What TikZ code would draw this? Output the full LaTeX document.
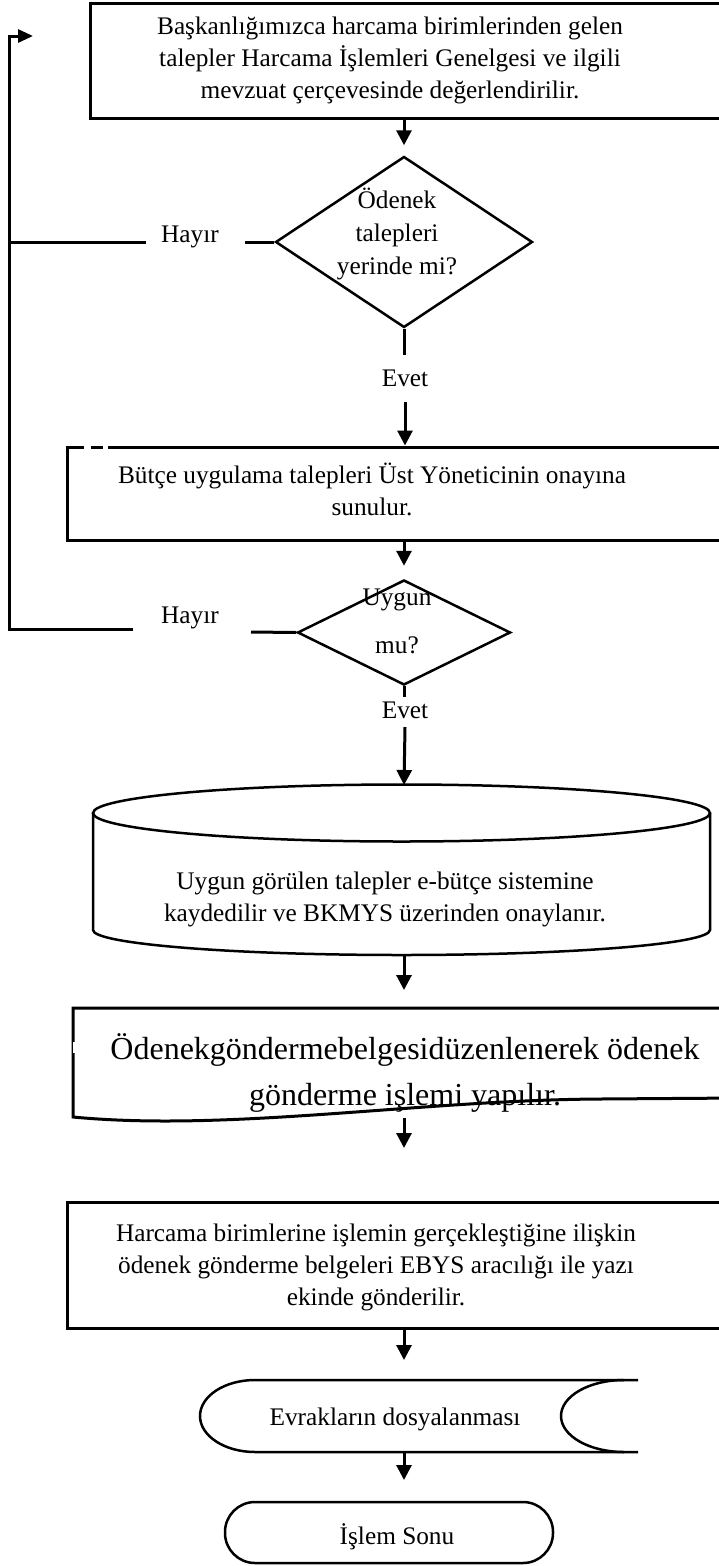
\documentclass[tikz,border=0pt]{standalone}
\usepackage{fontspec}
\setmainfont{Liberation Serif}
\usetikzlibrary{arrows.meta,shapes.geometric}
\tikzset{
  conn/.style={line width=3pt},
  arr/.style={line width=3pt,-{Triangle[width=15pt,length=15pt]}},
  boxshape/.style={draw,line width=3pt,inner sep=0pt},
  txt/.style={font=\fontsize{25.3}{32}\selectfont,align=center,inner sep=0pt},
  bigtxt/.style={font=\fontsize{32}{46}\selectfont,align=center,inner sep=0pt},
  thinshape/.style={draw,line width=2.5pt},
}
\begin{document}
\begin{tikzpicture}[x=1pt,y=-1pt]
\useasboundingbox (0,0) rectangle (719,1566);
\clip (0,0) rectangle (719,1566);
\fill[white] (0,0) rectangle (719,1566);

% box 1
\node[boxshape,minimum width=650pt,minimum height=115pt] (b1) at (415,60.5) {};
\node[txt] (t1) at (390,60.5) {Başkanlığımızca harcama birimlerinden gelen\\talepler Harcama İşlemleri Genelgesi ve ilgili\\mevzuat çerçevesinde değerlendirilir.};

% diamond 1
\node[diamond,draw,line width=2.5pt,minimum width=257pt,minimum height=171pt,inner sep=0pt,aspect=1.5] (d1) at (404,242) {};
\node[font=\fontsize{25.3}{33}\selectfont,align=center,inner sep=0pt] (dt1) at (397,234) {Ödenek\\talepleri\\yerinde mi?};
\draw[arr,shorten >=10pt] (b1.south -| d1.north) -- (d1.north);

% Hayir 1
\node[txt] (h1) at (190,237) {Hayır};
\coordinate (h1r) at (245,242);
\coordinate (h1l) at (146,242);
\coordinate (lft1) at (9.5,242);
\draw[conn] (d1.west) -- (h1r);
\draw[conn] (h1l) -- (lft1);

% Evet 1
\coordinate (e1a) at (404,355);
\node[txt] (e1) at (405,378) {Evet};
\draw[conn] (d1.south) -- (e1a);

% box 2
\node[boxshape,minimum width=680pt,minimum height=93pt] (b2) at (407,493.5) {};
\fill[white] (84,444) rectangle (91,450);
\fill[white] (103,444) rectangle (108,450);
\node[txt] (t2) at (372,489) {Bütçe uygulama talepleri Üst Yöneticinin onayına\\sunulur.};
\draw[arr] (e1.south |- 0,402) -- (b2.north -| e1.south);

% diamond 2
\node[diamond,draw,line width=2.5pt,minimum width=213pt,minimum height=105pt,inner sep=0pt,aspect=2] (d2) at (404,632.5) {};
\node[font=\fontsize{25.3}{48}\selectfont,align=center,inner sep=0pt] (dt2) at (397,621) {Uygun\\mu?};
\draw[arr,shorten >=13pt] (b2.south -| d2.north) -- (d2.north);

% Hayir 2 and feedback
\node[txt] (h2) at (190,618) {Hayır};
\coordinate (h2r) at (251,632);
\coordinate (h2l) at (133,629);
\coordinate (lft) at (9.5,36);
\coordinate (tip) at (33,36);
\draw[conn] (d2.west) -- (h2r);
\draw[conn,-{Triangle[width=13pt,length=15pt]}] (h2l) -| (lft) -- (tip);

% Evet 2
\coordinate (e2a) at (404,697);
\node[txt] (e2) at (405,710) {Evet};
\draw[conn] (d2.south) -- (e2a);

% cylinder
\node[txt] (cy) at (385,899) {Uygun görülen talepler e-bütçe sistemine\\kaydedilir ve BKMYS üzerinden onaylanır.};
\coordinate (cytop) at (404,785);
\coordinate (cybot) at (404,955);
\draw[thinshape] (401.5,813) ellipse [x radius=308.5, y radius=28.5];
\draw[thinshape] (93,813) -- (93,930) arc[start angle=180,end angle=0,x radius=308.5,y radius=25] -- (710,813);
\draw[arr] (e2.south |- 0,727) -- (cytop);

% document shape
\node[bigtxt] (t3) at (405,1073) {Ödenekgöndermebelgesidüzenlenerek ödenek\\gönderme işlemi yapılır.};
\coordinate (dtop) at (404,1008);
\coordinate (dbot) at (404,1118);
\draw[line width=3pt] (740,1008) -- (73,1008) -- (73,1117)
   .. controls (230,1132) and (420,1100) .. (600,1099) -- (740,1098);
\fill[white] (73,1042) rectangle (75,1053);
\draw[arr] (cybot) -- (404,990) coordinate (c2);
\draw[arr] (dbot) -- (404,1148) coordinate (c3);

% box 4
\node[boxshape,minimum width=680pt,minimum height=126pt] (b4) at (407,1265) {};
\node[txt] (t4) at (376,1267) {Harcama birimlerine işlemin gerçekleştiğine ilişkin\\ödenek gönderme belgeleri EBYS aracılığı ile yazı\\ekinde gönderilir.};

% stored data
\node[txt] (t5) at (395,1419) {Evrakların dosyalanması};
\coordinate (stop) at (404,1380);
\coordinate (sbot) at (404,1452);
\draw[thinshape] (638,1380) -- (255,1380) arc[start angle=270,end angle=90,x radius=55,y radius=36] -- (638,1452);
\draw[thinshape] (624,1380) arc[start angle=270,end angle=90,x radius=63,y radius=36];
\draw[arr] (b4.south -| stop) -- (404,1360);

% terminal
\node[draw,line width=2.5pt,rounded corners=30pt,minimum width=328pt,minimum height=61pt] (end) at (389,1532.5) {};
\node[txt] (t6) at (397,1537) {İşlem Sonu};
\draw[arr] (sbot) -- (404,1480);
\end{tikzpicture}
\end{document}
